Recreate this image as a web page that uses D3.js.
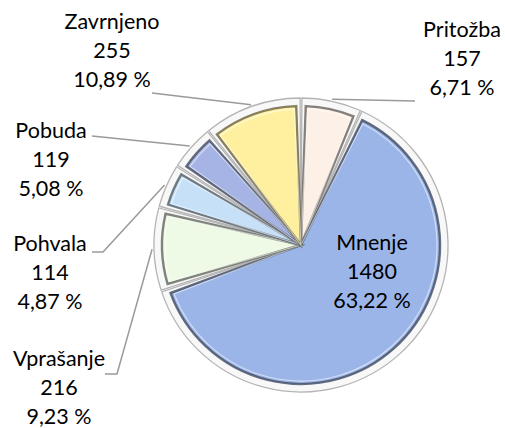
<!DOCTYPE html>
<html>
<head>
  <meta charset="utf-8">
  <title>Pie</title>
  <script src="https://d3js.org/d3.v7.min.js"></script>
  <style>
    body { margin: 0; background: #fff; }
    text { font-family: Lato, "Liberation Sans", sans-serif; font-size: 21.5px; fill: #000; }
  </style>
</head>
<body>
  <svg id="chart"></svg>
  <script>
    // data
    var categories = ["Pritožba", "Mnenje", "Vprašanje", "Pohvala", "Pobuda", "Zavrnjeno"];
    var counts = [157, 1480, 216, 114, 119, 255];
    var colors = ["#fdf0e6", "#9bb5e8", "#eef9e6", "#c6e0f8", "#a5b4e4", "#fff0a0"];

    const svg_width = 505;
    const svg_height = 428;
    var cx = 301, cy = 245;
    var radius = 147;

    // label layout: text centre, first baseline, leader end points (label side)
    var labelLayout = [
      { x: 462, y: 37, line: [[415, 101]] },
      { x: 372, y: 250, line: null },
      { x: 59, y: 366, line: [[105, 374], [117, 374]] },
      { x: 50, y: 251, line: [[92, 252], [103, 252]] },
      { x: 51, y: 138, line: [[92, 136]] },
      { x: 112, y: 29, line: [[152, 93]] }
    ];
    var lineStep = 29;

    var total = d3.sum(counts);
    var data = categories.map(function(c, i) {
      return { name: c, value: counts[i], color: colors[i], layout: labelLayout[i] };
    });

    var svg = d3.select("#chart")
      .attr("width", svg_width)
      .attr("height", svg_height);

    var g = svg.append("g")
      .attr("transform", "translate(" + cx + "," + cy + ")");

    var pie = d3.pie()
      .sort(null)
      .value(function(d) { return d.value; });

    var arcs = pie(data);

    var outerArc = d3.arc()
      .innerRadius(0)
      .outerRadius(radius)
      .padAngle(0.012)
      .padRadius(radius);

    var innerArc = d3.arc()
      .innerRadius(0)
      .outerRadius(radius - 8)
      .padAngle(0.065)
      .padRadius(radius);

    var shineArc = d3.arc()
      .innerRadius(0)
      .outerRadius(radius - 11)
      .padAngle(0.09)
      .padRadius(radius);

    var slice = g.selectAll(".slice")
      .data(arcs)
      .enter().append("g")
      .attr("class", "slice");

    // white bevel rim
    slice.append("path")
      .attr("d", outerArc)
      .style("fill", "#f8f8f8")
      .style("stroke", "#b4b4b4")
      .style("stroke-width", 1.3);

    // coloured face
    slice.append("path")
      .attr("d", innerArc)
      .style("fill", function(d) { return d.data.color; })
      .style("stroke", function(d) { return d3.color(d.data.color).darker(2.5); })
      .style("stroke-width", 2.4)
      .style("stroke-opacity", 0.8);

    // inner highlight
    slice.append("path")
      .attr("d", shineArc)
      .style("fill", "none")
      .style("stroke", "#fff")
      .style("stroke-width", 1.2)
      .style("stroke-opacity", 0.55);

    // leader lines
    var rimArc = d3.arc().innerRadius(radius + 2).outerRadius(radius + 2);

    var lineGen = d3.line();
    g.selectAll(".leader")
      .data(arcs.filter(function(d) { return d.data.layout.line; }))
      .enter().append("path")
      .attr("class", "leader")
      .attr("d", function(d) {
        var pts = d.data.layout.line.map(function(p) { return [p[0] - cx, p[1] - cy]; });
        pts.push(rimArc.centroid(d));
        return lineGen(pts);
      })
      .style("fill", "none")
      .style("stroke", "#9a9a9a")
      .style("stroke-width", 1.5);

    // labels
    function pctFormat(v) {
      return (v / total * 100).toFixed(2).replace(".", ",") + " %";
    }

    var labels = svg.selectAll(".label")
      .data(arcs)
      .enter().append("text")
      .attr("class", "label")
      .attr("text-anchor", "middle")
      .attr("x", function(d) { return d.data.layout.x; })
      .attr("y", function(d) { return d.data.layout.y; });

    labels.each(function(d) {
      var t = d3.select(this);
      var lines = [d.data.name, String(d.data.value), pctFormat(d.data.value)];
      lines.forEach(function(l, i) {
        t.append("tspan")
          .attr("x", d.data.layout.x)
          .attr("dy", i === 0 ? 0 : lineStep)
          .text(l);
      });
    });
  </script>
</body>
</html>
